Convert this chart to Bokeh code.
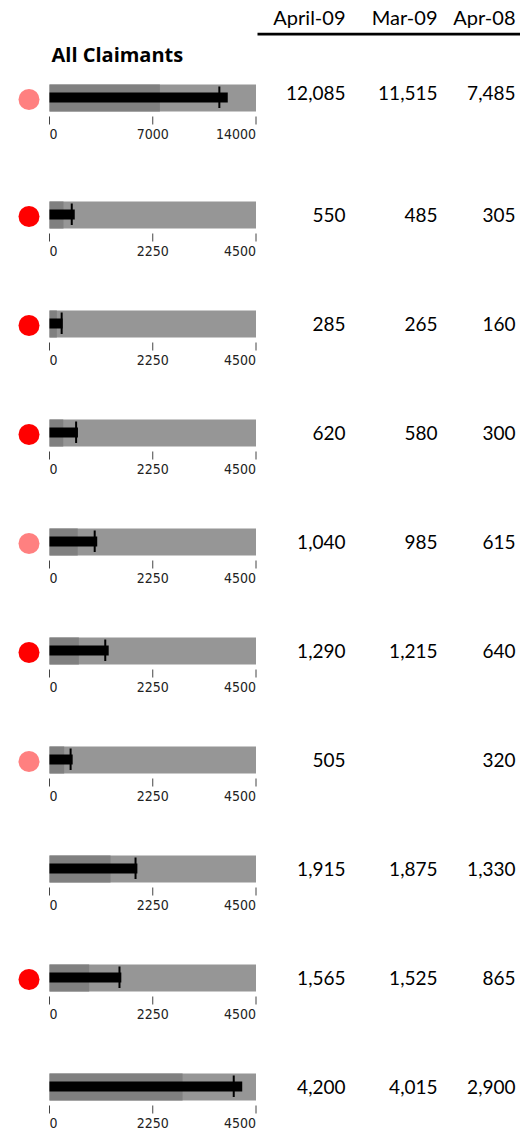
from bokeh.plotting import figure
from bokeh.layouts import column, row
from bokeh.models import Range1d
from bokeh.core.properties import value
from bokeh.embed import file_html
from bokeh.resources import INLINE

# ---------------- data ----------------
columns = ["April-09", "Mar-09", "Apr-08"]
title = "All Claimants"
april09 = [12085, 550, 285, 620, 1040, 1290, 505, 1915, 1565, 4200]
mar09 = [11515, 485, 265, 580, 985, 1215, None, 1875, 1525, 4015]
apr08 = [7485, 305, 160, 300, 615, 640, 320, 1330, 865, 2900]
marker_values = [11515, 485, 265, 580, 985, 1215, 460, 1875, 1525, 4015]
scale_max = [14000, 4500, 4500, 4500, 4500, 4500, 4500, 4500, 4500, 4500]
tick_values = [[0, 7000, 14000]] + [[0, 2250, 4500]] * 9
tick_labels = [["0", "7000", "14000"]] + [["0", "2250", "4500"]] * 9
status = ["warn", "alert", "alert", "alert", "warn", "alert", "warn", None, "alert", None]

# ---------------- style ----------------
STATUS_COLORS = {"alert": "#ff0000", "warn": "#ff8080"}
DARK = "#808080"
LIGHT = "#969696"
NUM_FONT = "Lato"
TITLE_FONT = "Open Sans"
TICK_FONT = "DejaVu Sans Condensed"
ROW_H = [117] + [109] * 8 + [66]
NUM_MID = [14.5] + [19.0] * 9
HEADER_H = 78
W = 520
CIRC_W = 46
BUL_W = 211
TAB_W = W - CIRC_W - BUL_W
PX_PER_SCALE = 206.5
PAD_L, PAD_R = 3.0, 1.5
COL_RIGHT = [345, 437, 515]          # page x of right edge of each column
BAR_TOP, BAR_BOT = 6, 33
MEAS_TOP, MEAS_BOT = 14, 24
MARK_TOP, MARK_BOT = 8, 29.5
TICK_TOP, TICK_BOT = 38, 46
TICK_MID = 55
CIRC_Y = 21


def blank(w, h, xr, yr):
    p = figure(width=w, height=h, x_range=xr, y_range=yr, output_backend="svg",
               toolbar_location=None, tools="", min_border=0,
               x_axis_type=None, y_axis_type=None, outline_line_color=None,
               background_fill_color="white", border_fill_color="white")
    return p


def fmt(v):
    return "" if v is None else f"{v:,}"


# header
header = blank(W, HEADER_H, Range1d(0, W), Range1d(HEADER_H, 0))
header.text(x=COL_RIGHT, y=[16] * 3, text=columns, text_align="right",
            text_baseline="middle", text_font=value(NUM_FONT),
            text_font_size="20px", text_color="black")
header.segment(x0=[CIRC_W + BUL_W], y0=[33.7], x1=[W], y1=[33.7],
               line_width=2.7, line_color="black")
header.text(x=[51], y=[53.5], text=[title], text_align="left",
            text_baseline="middle", text_font=value(TITLE_FONT),
            text_font_style="bold", text_font_size="20px", text_color="black")

rows = [header]
for i in range(len(april09)):
    h = ROW_H[i]
    m = scale_max[i]
    # status dot
    c = blank(CIRC_W, h, Range1d(0, CIRC_W), Range1d(h, 0))
    if status[i] is not None:
        c.scatter(x=[28.5], y=[CIRC_Y], size=21, fill_color=STATUS_COLORS[status[i]],
                  line_color=None)
    # bullet
    xr = Range1d(-PAD_L / PX_PER_SCALE * m, m * (1 + PAD_R / PX_PER_SCALE))
    b = blank(BUL_W, h, xr, Range1d(h, 0))
    b.quad(left=[0, 0], right=[m, apr08[i]], top=BAR_TOP, bottom=BAR_BOT,
           fill_color=[LIGHT, DARK], line_color=None)
    b.quad(left=[0], right=[april09[i]], top=MEAS_TOP, bottom=MEAS_BOT,
           fill_color="black", line_color=None)
    b.segment(x0=[marker_values[i]], y0=[MARK_TOP], x1=[marker_values[i]], y1=[MARK_BOT],
              line_width=2, line_color="black")
    b.segment(x0=tick_values[i], y0=[TICK_TOP] * 3, x1=tick_values[i], y1=[TICK_BOT] * 3,
              line_width=1, line_color="#444444")
    b.text(x=tick_values[i], y=[TICK_MID] * 3, text=tick_labels[i],
           text_align=["left", "center", "right"], text_baseline="middle",
           text_font=value(TICK_FONT), text_font_size="14px", text_color="#222222")
    # table values
    t = blank(TAB_W, h, Range1d(0, TAB_W), Range1d(h, 0))
    t.text(x=[cx - (CIRC_W + BUL_W) for cx in COL_RIGHT], y=[NUM_MID[i]] * 3,
           text=[fmt(april09[i]), fmt(mar09[i]), fmt(apr08[i])],
           text_align="right", text_baseline="middle",
           text_font=value(NUM_FONT), text_font_size="19px", text_color="black")
    rows.append(row(c, b, t, spacing=0))

layout = column(*rows, spacing=0)
open("out.html", "w").write(file_html(layout, INLINE))
